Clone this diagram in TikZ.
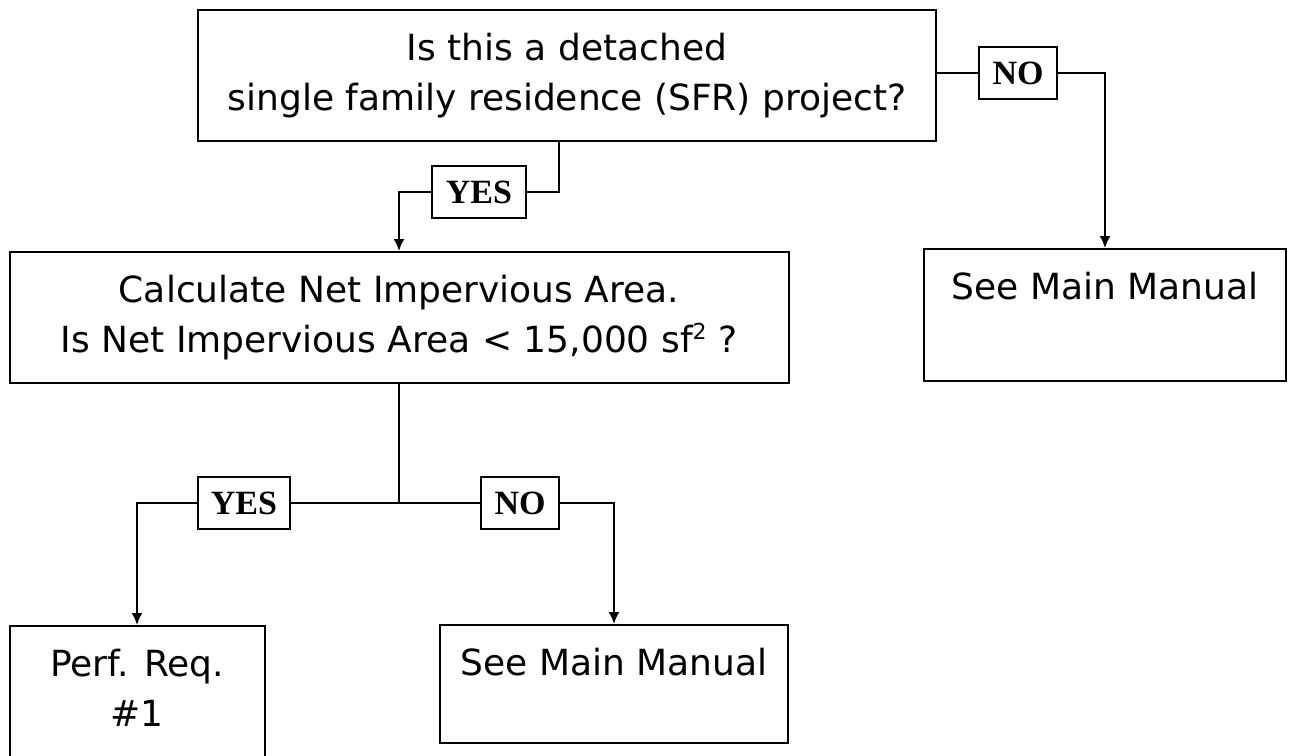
\documentclass[tikz,border=0pt]{standalone}
\usepackage{fontspec}
\setmainfont{DejaVu Sans}
\newfontfamily\labfamily{Liberation Serif}
\usepackage{tikz}
\usetikzlibrary{positioning}
\usetikzlibrary{arrows.meta}
\usetikzlibrary{calc}
\newcommand{\flowtext}[3]{\parbox[c][#2][t]{#1}{\centering\rule{0pt}{50pt}#3}}

\begin{document}
\begin{tikzpicture}[x=1pt,y=-1pt]
	\useasboundingbox (0,0) rectangle (1289,755);
	\begin{scope}[every node/.style={draw,line width=2pt,inner sep=0pt,
	              font=\fontsize{36}{50}\selectfont}]
	    \node (Q1) at (567,75.5) {\flowtext{738pt}{131pt}{Is this a detached\\single family residence (SFR) project?}};
	    \node (Q2) at (399,317.5) {\flowtext{779pt}{131pt}{Calculate Net Impervious Area.\\Is Net Impervious Area < 15,000 sf{\fontsize{22}{22}\selectfont\raisebox{13pt}{2}} ?}};
	    \node (See1) at (1105,315) {\flowtext{362pt}{132pt}{See Main Manual}};
	    \node (Perf) at (137,693.5) {\flowtext{255pt}{135pt}{Perf. Req.\\\#1}};
	    \node (See2) at (614,684) {\flowtext{348pt}{118pt}{See Main Manual}};
	\end{scope}

	\begin{scope}[every node/.style={draw,fill=white,line width=1.8pt,inner sep=0pt,
	              minimum height=52pt,font=\labfamily\bfseries\fontsize{34}{34}\selectfont}]
	    \node[minimum width=78pt] (No1) at (1018,73) {NO};
	    \node[minimum width=94pt] (Yes1) at (479,192) {YES};
	    \node[minimum width=92pt] (Yes2) at (244,503) {YES};
	    \node[minimum width=78pt] (No2) at (520,503) {NO};
	\end{scope}

	\coordinate (C1) at (559,141);
	\coordinate (Split) at (399,503);

	\begin{scope}[>={Latex[length=12pt,width=11pt]},line width=1.8pt]
    	\draw (Q1.east |- No1) -- (No1.west);
    	\draw [->] (No1.east) -| (See1.north);
    	\draw (C1) |- (Yes1.east);
    	\draw [->] (Yes1.west) -| (Q2.north);
    	\draw (Q2.south) -- (Split);
    	\draw (Split) -- (Yes2.east);
    	\draw (Split) -- (No2.west);
    	\draw [->] (Yes2.west) -| (Perf.north);
    	\draw [->] (No2.east) -| (See2.north);
	\end{scope}
\end{tikzpicture}
\end{document}
